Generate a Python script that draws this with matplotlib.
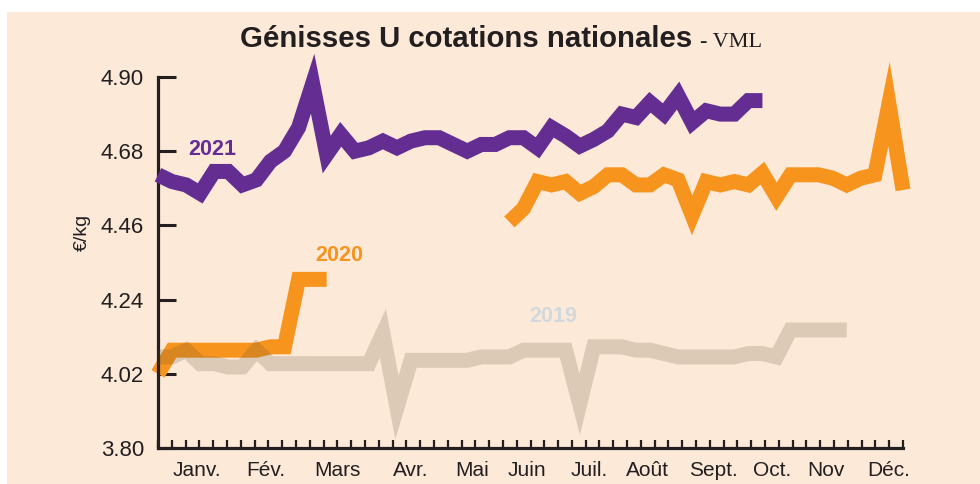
import numpy as np
import matplotlib.pyplot as plt
from matplotlib.patches import Rectangle

# cotations hebdo genisses U (euros/kg), une valeur par semaine
semaines = np.arange(54)

prix_2019 = [4.07, 4.07, 4.09, 4.05, 4.05, 4.04, 4.04, 4.09,
             4.05, 4.05, 4.05, 4.05, 4.05, 4.05, 4.05, 4.05,
             4.14, 3.92,
             4.06, 4.06, 4.06, 4.06, 4.06,
             4.07, 4.07, 4.07,
             4.09, 4.09, 4.09, 4.09,
             3.93,
             4.10, 4.10, 4.10,
             4.09, 4.09, 4.08,
             4.07, 4.07, 4.07, 4.07, 4.07,
             4.08, 4.08, 4.07,
             4.15, 4.15, 4.15, 4.15, 4.15]

prix_2020_debut = [4.02, 4.09, 4.09, 4.09, 4.09, 4.09, 4.09, 4.09,
                   4.10, 4.10, 4.30, 4.30, 4.30]
prix_2020_fin = [4.47, 4.51, 4.59, 4.58, 4.59, 4.555, 4.575, 4.61, 4.61,
                 4.58, 4.58, 4.61, 4.595, 4.49, 4.59, 4.58, 4.59, 4.58,
                 4.615, 4.545, 4.61, 4.61, 4.61, 4.60, 4.58, 4.60, 4.61,
                 4.82, 4.565]

prix_2021 = [4.61, 4.59, 4.58, 4.555, 4.62, 4.62, 4.58, 4.595, 4.65, 4.68,
             4.75, 4.88, 4.67, 4.73, 4.68, 4.69, 4.71, 4.69, 4.71, 4.72,
             4.72, 4.70, 4.68, 4.70, 4.70, 4.72, 4.72, 4.69, 4.75, 4.725,
             4.695, 4.715, 4.74, 4.79, 4.78, 4.825, 4.79, 4.845, 4.765, 4.80,
             4.79, 4.79, 4.83, 4.83]

mois = ["Janv.", "Fév.", "Mars", "Avr.", "Mai", "Juin",
        "Juil.", "Août", "Sept.", "Oct.", "Nov", "Déc."]
pos_mois = [2.8, 7.7, 12.75, 17.95, 22.35, 26.25, 30.7, 34.8, 39.5, 43.7, 47.5, 52.0]

y_ticks = [3.80, 4.02, 4.24, 4.46, 4.68, 4.90]


def complete(vals, avant=0):
    out = np.full(len(semaines), np.nan)
    out[avant:avant + len(vals)] = vals
    return out


s2019 = complete(prix_2019)
s2020 = complete(prix_2020_debut)
s2020[len(semaines) - len(prix_2020_fin):] = prix_2020_fin
s2021 = complete(prix_2021)

fond = "#FDE9D8"
noir = "#231F20"
violet = "#642D91"
orange = "#F7941E"

plt.rcParams["font.family"] = ["Liberation Sans", "DejaVu Sans"]

fig = plt.figure(figsize=(9.8, 4.84), dpi=100, facecolor="white")
fig.patches.append(Rectangle((7 / 980, 0), 1, 1 - 12 / 484, transform=fig.transFigure,
                             facecolor=fond, edgecolor="none", zorder=-10))

ax = fig.add_axes([158 / 980, 36 / 484, 745 / 980, 371 / 484])
ax.set_facecolor("none")

lw = 10.8
ax.plot(semaines, s2020, color=orange, lw=lw, solid_joinstyle="miter",
        solid_capstyle="butt", clip_on=False, zorder=2)
ax.plot(semaines, s2019, color=(93 / 255, 78 / 255, 46 / 255), alpha=0.2, lw=lw,
        solid_joinstyle="miter", solid_capstyle="butt", clip_on=False, zorder=3)
ax.plot(semaines, s2021, color=violet, lw=lw, solid_joinstyle="miter",
        solid_capstyle="butt", clip_on=False, zorder=4)

ax.set_xlim(0, 53)
ax.set_ylim(3.80, 4.90)

for sp in ["top", "right"]:
    ax.spines[sp].set_visible(False)
for sp in ["left", "bottom"]:
    ax.spines[sp].set_linewidth(2.3)
    ax.spines[sp].set_color(noir)

ax.set_yticks(y_ticks)
ax.set_yticklabels([f"{v:.2f}" for v in y_ticks])
ax.tick_params(axis="y", direction="in", length=13, width=2.2, color=noir,
               labelsize=16, labelcolor=noir, pad=10)

ax.set_xticks(np.linspace(0, 53, 55), minor=True)
ax.tick_params(axis="x", which="minor", direction="in", length=6, width=1.6, color=noir)
ax.set_xticks(pos_mois)
ax.set_xticklabels(mois)
ax.tick_params(axis="x", which="major", length=0, labelsize=15, labelcolor=noir, pad=9)

ax.text(3.85, 4.686, "2021", color=violet, fontsize=15.5, fontweight="bold",
        ha="center", va="center")
ax.text(12.9, 4.372, "2020", color=orange, fontsize=15.5, fontweight="bold",
        ha="center", va="center")
ax.text(28.1, 4.19, "2019", color="#D2D8DC", fontsize=15.5, fontweight="bold",
        ha="center", va="center")

fig.text(82 / 980, 1 - 232 / 484, "€/kg", rotation=90, ha="center", va="center",
         fontsize=14, color=noir)

fig.text(692 / 980, 1 - 47 / 484, "Génisses U cotations nationales",
         fontweight="bold", fontsize=21.2, color=noir, ha="right", va="baseline")
fig.text(700 / 980, 1 - 47 / 484, "- VML", family=["Liberation Serif"],
         fontsize=16, color=noir, ha="left", va="baseline")

fig.savefig("out.png", dpi=100, facecolor=fig.get_facecolor())
